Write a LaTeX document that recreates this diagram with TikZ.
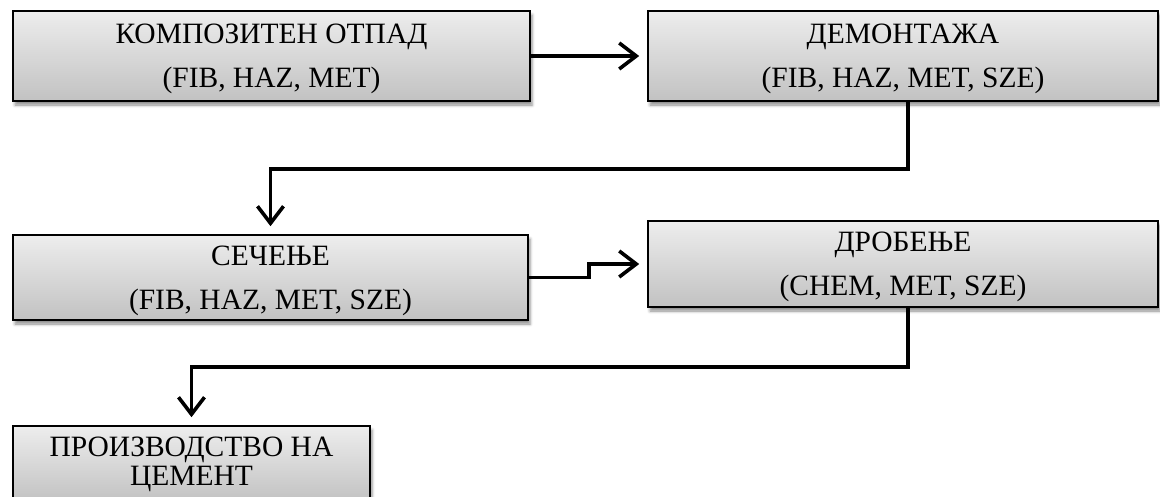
\documentclass[tikz,border=0pt]{standalone}
\usepackage{fontspec}
\setmainfont{Liberation Serif}
\usetikzlibrary{arrows.meta,shadows.blur}
\newcommand\mytopstrut{\rule{0pt}{26pt}}
\begin{document}
\begin{tikzpicture}[x=1pt,y=-1pt,
  stagebox/.style={draw=black, line width=1.6pt, top color=gray!14, bottom color=gray!48,
    align=center, inner sep=0pt, font=\fontsize{29.5}{44}\selectfont,
    blur shadow={shadow xshift=2pt, shadow yshift=-4pt, shadow blur radius=3pt, shadow opacity=45}},
  conn/.style={line width=3.6pt, -{Straight Barb[length=17pt,width=26pt]}, shorten >=8pt}]
\useasboundingbox (0,0) rectangle (1160,496);
\clip (0,0) rectangle (1160,496);
\node[stagebox, minimum width=517pt, minimum height=90pt] (b1) at (271.5,56) {\mytopstrut КОМПОЗИТЕН ОТПАД\\(FIB, HAZ, MET)};
\node[stagebox, minimum width=510pt, minimum height=90pt] (b2) at (903,56) {\mytopstrut ДЕМОНТАЖА\\(FIB, HAZ, MET, SZE)};
\node[stagebox, minimum width=515pt, minimum height=85pt] (b3) at (270.5,277.5) {\mytopstrut СЕЧЕЊЕ\\(FIB, HAZ, MET, SZE)};
\node[stagebox, minimum width=510pt, minimum height=86pt] (b4) at (903,264) {\mytopstrut ДРОБЕЊЕ\\(CHEM, MET, SZE)};
\node[stagebox, minimum width=357pt, minimum height=76pt, font=\fontsize{29.5}{29}\selectfont] (b5) at (191.5,464) {ПРОИЗВОДСТВО НА\\ЦЕМЕНТ};
\coordinate (k1) at (908,0);
\coordinate (k2) at (589,0);
\coordinate (h1) at (0,169);
\coordinate (h2) at (0,367);
\draw[conn] (b1.east) -- (b2.west);
\draw[conn] (b2.south -| k1) -- (k1 |- h1) -| (b3.north);
\draw[conn] (b3.east) -- (b3.east -| k2) -- (k2 |- b4.west) -- (b4.west);
\draw[conn] (b4.south -| k1) -- (k1 |- h2) -| (b5.north);
\end{tikzpicture}
\end{document}
